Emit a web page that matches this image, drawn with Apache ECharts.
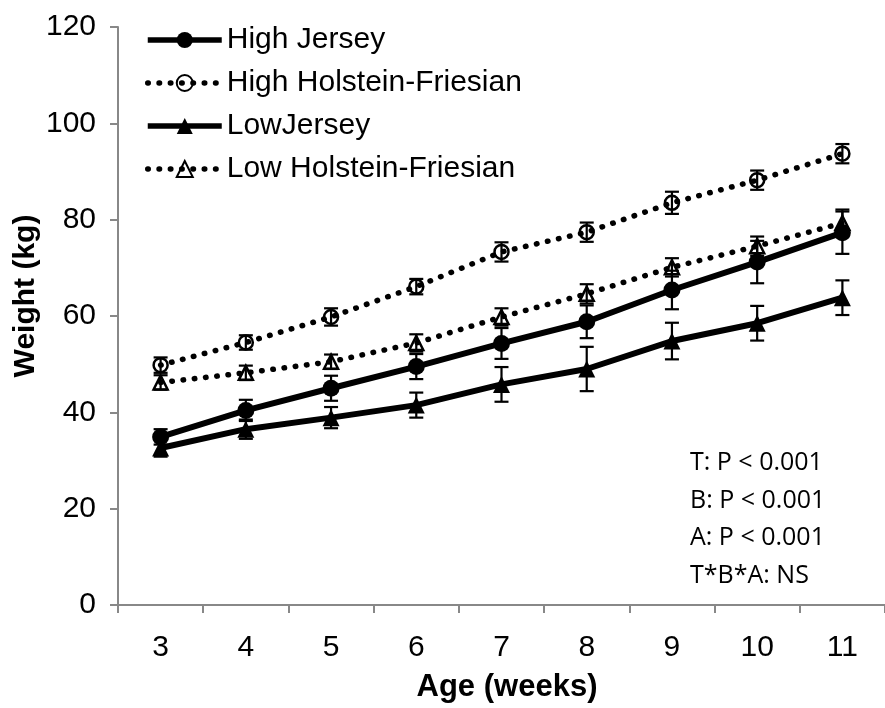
<!DOCTYPE html>
<html>
<head>
<meta charset="utf-8">
<script src="https://cdn.jsdelivr.net/npm/echarts@6/dist/echarts.min.js"></script>
<style>
  html, body { margin: 0; padding: 0; background: #fff; }
  #chart { width: 885px; height: 708px; }
</style>
</head>
<body>
<div id="chart"></div>
<script>
// Age in weeks
var categories = ['3', '4', '5', '6', '7', '8', '9', '10', '11'];

// Mean body weight (kg) and standard error per group
var highJersey   = [34.9, 40.4, 45.0, 49.5, 54.3, 58.8, 65.4, 71.2, 77.3];
var highJerseySE = [1.6, 2.2, 2.6, 2.6, 3.2, 3.4, 4.0, 4.4, 4.4];
var highHF       = [49.8, 54.5, 59.8, 66.1, 73.3, 77.4, 83.5, 88.2, 93.7];
var highHFSE     = [1.6, 1.5, 1.8, 1.6, 2.0, 2.0, 2.3, 2.0, 2.0];
var lowJersey    = [32.6, 36.5, 38.9, 41.5, 45.8, 49.0, 54.8, 58.5, 63.8];
var lowJerseySE  = [1.8, 2.0, 2.2, 2.6, 3.6, 4.6, 3.8, 3.6, 3.6];
var lowHF        = [46.2, 48.2, 50.5, 54.4, 59.8, 64.6, 70.1, 74.5, 79.3];
var lowHFSE      = [1.5, 1.5, 1.5, 1.8, 1.8, 2.0, 1.9, 2.0, 2.8];

var seriesNames = ['High Jersey', 'High Holstein-Friesian', 'LowJersey', 'Low Holstein-Friesian'];

// Y axis
var yMin = 0, yMax = 120, yStep = 20;

// Statistics notes
var statLines = ['T: P < 0.001', 'B: P < 0.001', 'A: P < 0.001', 'T*B*A: NS'];

var axisGray = '#888888';
var baseFont = 'Liberation Sans, Arial, sans-serif';

function errorRows(means, ses) {
  return means.map(function (m, i) { return [i, m, ses[i]]; });
}

function errorBarSeries(means, ses) {
  return {
    type: 'custom',
    z: 1,
    silent: true,
    data: errorRows(means, ses),
    encode: { x: 0, y: 1 },
    renderItem: function (params, api) {
      var i = api.value(0), m = api.value(1), se = api.value(2);
      var top = api.coord([i, m + se]);
      var bot = api.coord([i, m - se]);
      var half = 7;
      var st = { stroke: '#000', lineWidth: 2.2 };
      return {
        type: 'group',
        children: [
          { type: 'line', shape: { x1: top[0], y1: top[1], x2: bot[0], y2: bot[1] }, style: st },
          { type: 'line', shape: { x1: top[0] - half, y1: top[1], x2: top[0] + half, y2: top[1] }, style: st },
          { type: 'line', shape: { x1: bot[0] - half, y1: bot[1], x2: bot[0] + half, y2: bot[1] }, style: st }
        ]
      };
    }
  };
}

var dotted = [0.5, 10.8];

var option = {
  animation: false,
  backgroundColor: '#ffffff',
  grid: { left: 118, right: -10, top: 27, bottom: 103, containLabel: false },
  legend: {
    orient: 'vertical',
    left: 140,
    top: 20,
    itemWidth: 74,
    itemHeight: 20,
    itemGap: 13,
    data: seriesNames,
    lineStyle: { width: 5.5 },
    textStyle: { fontFamily: baseFont, fontSize: 30, color: '#000', lineHeight: 30 }
  },
  xAxis: {
    type: 'category',
    data: categories,
    boundaryGap: true,
    axisLine: { show: true, lineStyle: { color: axisGray, width: 2 } },
    axisTick: { show: true, length: 8, lineStyle: { color: axisGray, width: 2 } },
    axisLabel: { color: '#000', fontSize: 30, fontFamily: baseFont, margin: 28 },
    splitLine: { show: false }
  },
  yAxis: {
    type: 'value',
    min: yMin, max: yMax, interval: yStep,
    axisLine: { show: true, lineStyle: { color: axisGray, width: 2 } },
    axisTick: { show: true, length: 8, lineStyle: { color: axisGray, width: 2 } },
    axisLabel: { color: '#000', fontSize: 30, fontFamily: baseFont, margin: 22 },
    splitLine: { show: false }
  },
  graphic: [
    {
      type: 'text', x: 26, y: 296, rotation: Math.PI / 2,
      style: { text: 'Weight (kg)', fill: '#000', font: 'bold 30px ' + baseFont, align: 'center', verticalAlign: 'middle' }
    },
    {
      type: 'text', x: 507, y: 687,
      style: { text: 'Age (weeks)', fill: '#000', font: 'bold 31px ' + baseFont, align: 'center', verticalAlign: 'middle' }
    }
  ].concat(statLines.map(function (t, k) {
    return {
      type: 'text', x: 690, y: 463 + k * 37.5,
      style: { text: t, fill: '#000', font: '25px "Open Sans", sans-serif', align: 'left', verticalAlign: 'middle' }
    };
  })),
  series: [
    errorBarSeries(highJersey, highJerseySE),
    errorBarSeries(highHF, highHFSE),
    errorBarSeries(lowJersey, lowJerseySE),
    errorBarSeries(lowHF, lowHFSE),
    {
      name: seriesNames[0], type: 'line', z: 3, data: highJersey,
      symbol: 'circle', symbolSize: 17,
      lineStyle: { color: '#000', width: 6 },
      itemStyle: { color: '#000', borderColor: '#000', borderWidth: 0 }
    },
    {
      name: seriesNames[1], type: 'line', z: 3, data: highHF,
      symbol: 'circle', symbolSize: 14,
      lineStyle: { color: '#000', width: 5.5, type: dotted, cap: 'round' },
      itemStyle: { color: 'rgba(255,255,255,0)', borderColor: '#000', borderWidth: 2.5 }
    },
    {
      name: seriesNames[2], type: 'line', z: 3, data: lowJersey,
      symbol: 'triangle', symbolSize: 17,
      lineStyle: { color: '#000', width: 6 },
      itemStyle: { color: '#000', borderColor: '#000', borderWidth: 0 }
    },
    {
      name: seriesNames[3], type: 'line', z: 3, data: lowHF,
      symbol: 'triangle', symbolSize: 14,
      lineStyle: { color: '#000', width: 5.5, type: dotted, cap: 'round' },
      itemStyle: { color: 'rgba(255,255,255,0)', borderColor: '#000', borderWidth: 2.5 }
    }
  ]
};

var chart = echarts.init(document.getElementById('chart'), null, { renderer: 'canvas' });
chart.setOption(option);
</script>
</body>
</html>
